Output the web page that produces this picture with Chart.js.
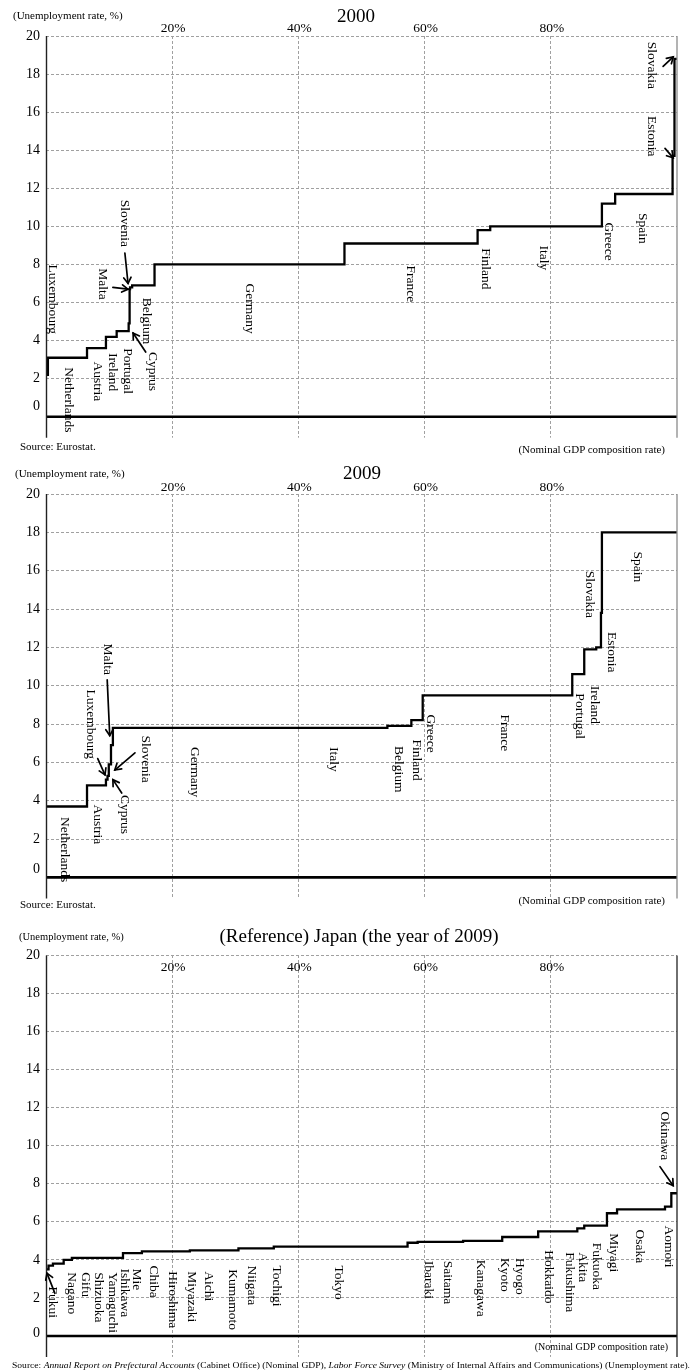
<!DOCTYPE html>
<html><head><meta charset="utf-8">
<script src="https://cdn.jsdelivr.net/npm/chart.js@4.4.0/dist/chart.umd.min.js"></script>
<style>
html,body{margin:0;padding:0;background:#fff;}
#wrap{position:relative;width:693px;height:1371px;overflow:hidden;font-family:'Liberation Serif','Times New Roman',serif;color:#000;}
canvas{position:absolute;left:0;}
.t{position:absolute;white-space:nowrap;line-height:1;}
.c{transform:translate(-50%,-50%);}
.l{transform:translateY(-50%);}
.r{transform:translate(-100%,-50%);}
</style></head><body>
<div id="wrap">
<canvas id="c1" width="693" height="458" style="top:0px"></canvas>
<canvas id="c2" width="693" height="457" style="top:458px"></canvas>
<canvas id="c3" width="693" height="456" style="top:915px"></canvas>

<div class="t c" style="left:356px;top:15px;font-size:19px">2000</div>
<div class="t l" style="left:13px;top:15px;font-size:11px">(Unemployment rate, %)</div>
<div class="t l" style="left:20px;top:446px;font-size:11px">Source: Eurostat.</div>
<div class="t r" style="left:665px;top:449px;font-size:11px">(Nominal GDP composition rate)</div>

<div class="t c" style="left:362px;top:472px;font-size:19px">2009</div>
<div class="t l" style="left:15px;top:473px;font-size:11px">(Unemployment rate, %)</div>
<div class="t l" style="left:20px;top:904px;font-size:11px">Source: Eurostat.</div>
<div class="t r" style="left:665px;top:900px;font-size:11px">(Nominal GDP composition rate)</div>

<div class="t c" style="left:359px;top:935px;font-size:19px">(Reference) Japan (the year of 2009)</div>
<div class="t l" style="left:19px;top:937px;font-size:10.5px">(Unemployment rate, %)</div>
<div class="t r" style="left:668px;top:1347px;font-size:10px">(Nominal GDP composition rate)</div>
<div class="t" id="foot" style="left:12px;top:1365px;font-size:8.5px;transform-origin:left center">Source: <i>Annual Report on Prefectural Accounts</i> (Cabinet Office) (Nominal GDP), <i>Labor Force Survey</i> (Ministry of Internal Affairs and Communications) (Unemployment rate).</div>
</div>
<script>
// ---------------- DATA ----------------
// 2000 euro area: countries sorted by unemployment rate, nominal GDP share (%), unemployment rate (%)
const countries2000 = ['Luxembourg','Netherlands','Austria','Ireland','Portugal','Cyprus','Malta','Slovenia','Belgium','Germany','France','Finland','Italy','Greece','Spain','Estonia','Slovakia'];
const gdpShare2000  = [0.3, 6.2, 3.0, 1.7, 1.9, 0.15, 0.07, 0.33, 3.55, 30.1, 21.1, 2.0, 17.7, 2.1, 9.1, 0.3, 0.4];
const unemp2000     = [2.2, 3.1, 3.6, 4.2, 4.5, 4.9, 6.7, 6.8, 6.9, 8.0, 9.1, 9.8, 10.0, 11.2, 11.7, 13.7, 18.8];

// 2009 euro area
const countries2009 = ['Netherlands','Austria','Luxembourg','Cyprus','Slovenia','Malta','Germany','Italy','Belgium','Finland','Greece','France','Portugal','Ireland','Slovakia','Estonia','Spain'];
const gdpShare2009  = [6.5, 3.0, 0.25, 0.2, 0.35, 0.3, 26.7, 16.8, 3.8, 1.8, 2.6, 21.1, 1.9, 1.9, 0.75, 0.15, 11.9];
const unemp2009     = [3.7, 4.8, 5.1, 5.3, 5.9, 6.9, 7.8, 7.8, 7.9, 8.2, 9.5, 9.5, 10.6, 11.9, 12.0, 13.8, 18.0];

// Japan 2009: prefectures (steps without a label are unnamed)
const prefJapan   = ['Fukui','','Nagano','Gifu','Shizuoka','Yamaguchi','Ishikawa','Mie','Chiba','Hiroshima','Miyazaki','Aichi','Kumamoto','Niigata','Tochigi','Tokyo','','Ibaraki','Saitama','Kanagawa','Kyoto','Hyogo','Hokkaido','Fukushima','Akita','Fukuoka','Miyagi','Osaka','Aomori','Okinawa'];
const gdpShareJapan = [0.4, 0.7, 1.7, 1.3, 3.3, 1.2, 1.0, 2.6, 3.0, 7.6, 2.0, 5.7, 1.9, 3.7, 3.0, 18.2, 1.6, 3.6, 3.6, 6.2, 2.5, 3.2, 6.2, 1.1, 1.0, 2.6, 1.6, 7.6, 1.0, 0.9];
const unempJapan    = [3.5, 3.7, 3.8, 4.0, 4.1, 4.1, 4.1, 4.1, 4.35, 4.45, 4.5, 4.5, 4.6, 4.6, 4.7, 4.7, 4.9, 4.95, 4.95, 5.0, 5.2, 5.2, 5.5, 5.65, 5.8, 5.8, 6.45, 6.65, 6.8, 7.5];

// tick labels
const yTickValues = [0, 2, 4, 6, 8, 10, 12, 14, 16, 18, 20];
const yGridValues = [2, 4, 6, 8, 10, 12, 14, 16, 18, 20];
const xTickValues = [20, 40, 60, 80];

// ---------------- LAYOUT (annotation placement, data units: x = % , y = rate at text top) ----------------
const labels2000 = [
  ['Luxembourg',1.1,8.0],['Netherlands',3.5,2.6],['Austria',8.1,2.9],['Ireland',10.5,3.35],['Portugal',13.0,3.6],
  ['Cyprus',16.9,3.4],['Belgium',16.0,6.25],['Malta',9.0,7.8],['Slovenia',12.5,11.4],['Germany',32.3,7.0],
  ['France',57.7,7.95],['Finland',69.7,8.85],['Italy',78.9,9.0],['Greece',89.2,10.2],['Spain',94.6,10.7],
  ['Slovakia',96.0,19.7],['Estonia',96.0,15.8]
];
const arrows2000 = [[12.5,8.6,13.0,7.0],[10.6,6.8,13.0,6.7],[15.8,3.4,13.8,4.4],[97.8,18.4,99.4,18.9],[98.1,14.1,99.4,13.6]];

const labels2009 = [
  ['Malta',9.8,12.2],['Luxembourg',7.0,9.8],['Slovenia',15.7,7.4],['Cyprus',12.5,4.3],['Austria',8.1,3.8],
  ['Netherlands',3.0,3.15],['Germany',23.6,6.8],['Italy',45.5,6.8],['Belgium',55.9,6.85],['Finland',58.8,7.2],
  ['Greece',61.0,8.5],['France',72.7,8.5],['Portugal',84.6,9.6],['Ireland',87.0,10.0],['Slovakia',86.2,16.0],
  ['Estonia',89.7,12.8],['Spain',93.8,17.0]
];
const arrows2009 = [[9.7,10.3,10.1,7.4],[8.2,6.2,9.35,5.35],[14.1,6.5,10.9,5.6],[12.0,4.4,10.6,5.1]];

const labelsJapan = [
  ['Fukui',1.1,2.6],['Nagano',4.1,3.35],['Gifu',6.3,3.35],['Shizuoka',8.4,3.35],['Yamaguchi',10.6,3.35],
  ['Ishikawa',12.5,3.55],['Mie',14.4,3.55],['Chiba',17.1,3.7],['Hiroshima',20.0,3.4],['Miyazaki',23.0,3.4],
  ['Aichi',25.8,3.4],['Kumamoto',29.6,3.5],['Niigata',32.5,3.7],['Tochigi',36.6,3.7],['Tokyo',46.3,3.7],
  ['Ibaraki',60.7,3.95],['Saitama',63.7,3.95],['Kanagawa',68.9,4.0],['Kyoto',72.7,4.1],['Hyogo',75.1,4.1],
  ['Hokkaido',79.6,4.5],['Fukushima',82.9,4.4],['Akita',85.1,4.4],['Fukuoka',87.3,4.9],['Miyagi',89.9,5.4],
  ['Osaka',94.1,5.6],['Aomori',98.6,5.8],['Okinawa',98.1,11.8]
];
const arrowsJapan = [[1.4,2.25,0.15,3.3],[97.3,8.9,99.4,7.9]];

// ---------------- BUILD ----------------
function stepPoints(shares, rates){
  let cum = 0; const pts = [];
  for (let i = 0; i < shares.length; i++){ pts.push({x: cum, y: rates[i]}); cum += shares[i]; }
  pts.push({x: cum, y: rates[rates.length-1]});
  return pts;
}
const FONT = "'Liberation Serif','Times New Roman',serif";
function drawArrow(ctx, x1, y1, x2, y2){
  ctx.beginPath(); ctx.moveTo(x1,y1); ctx.lineTo(x2,y2); ctx.stroke();
  const a = Math.atan2(y2-y1, x2-x1), h = 7, w = 0.55;
  ctx.beginPath();
  ctx.moveTo(x2 - h*Math.cos(a-w), y2 - h*Math.sin(a-w));
  ctx.lineTo(x2, y2);
  ctx.lineTo(x2 - h*Math.cos(a+w), y2 - h*Math.sin(a+w));
  ctx.stroke();
}
function annotPlugin(cfg){
  return {
    id: 'annot',
    afterDraw(chart){
      const {ctx, chartArea: a, scales: {x, y}} = chart;
      ctx.save();
      // axis lines
      ctx.lineWidth = 1.4; ctx.strokeStyle = '#222';
      ctx.beginPath(); ctx.moveTo(a.left+0.5, a.top); ctx.lineTo(a.left+0.5, a.bottom); ctx.stroke();
      ctx.lineWidth = 1.3; ctx.strokeStyle = cfg.rightColor;
      ctx.beginPath(); ctx.moveTo(a.right, a.top); ctx.lineTo(a.right, a.bottom); ctx.stroke();
      // y tick labels
      ctx.fillStyle = '#000';
      ctx.font = '14px ' + FONT; ctx.textAlign = 'right'; ctx.textBaseline = 'middle';
      yTickValues.forEach(v => {
        ctx.fillText(String(v), a.left - 6, y.getPixelForValue(v) - (v === 0 ? cfg.zeroShift : 0));
      });
      // x tick labels
      ctx.font = '13.5px ' + FONT; ctx.textAlign = 'center';
      xTickValues.forEach(v => { ctx.fillText(v + '%', x.getPixelForValue(v) + 1, a.top + cfg.xLabelDy); });
      // category labels (rotated)
      ctx.font = '13.5px ' + FONT; ctx.textAlign = 'left'; ctx.textBaseline = 'middle';
      cfg.labels.forEach(([t, lx, ly]) => {
        ctx.save();
        ctx.translate(x.getPixelForValue(lx), y.getPixelForValue(ly));
        ctx.rotate(Math.PI/2);
        ctx.fillText(t, 0, 0);
        ctx.restore();
      });
      // arrows
      ctx.strokeStyle = '#000'; ctx.lineWidth = 1.7; ctx.lineCap = 'round'; ctx.lineJoin = 'miter';
      cfg.arrows.forEach(([x1,y1,x2,y2]) => {
        drawArrow(ctx, x.getPixelForValue(x1), y.getPixelForValue(y1), x.getPixelForValue(x2), y.getPixelForValue(y2));
      });
      ctx.restore();
    }
  };
}
function makeChart(id, shares, rates, cfg){
  const gridOpts = {color: '#a0a0a0', lineWidth: 1, drawTicks: false, tickLength: 0};
  return new Chart(document.getElementById(id), {
    type: 'line',
    data: {datasets: [
      {data: stepPoints(shares, rates), stepped: true, borderColor: '#000', borderWidth: 2.3, pointRadius: 0, fill: false, borderJoinStyle: 'miter', borderCapStyle: 'butt'},
      {data: [{x: 0, y: 0}, {x: 100, y: 0}], borderColor: '#000', borderWidth: 2.6, pointRadius: 0, fill: false}
    ]},
    options: {
      responsive: false, animation: false, devicePixelRatio: 1, events: [],
      layout: {padding: {left: 46, right: 16, top: cfg.padTop, bottom: cfg.padBottom}},
      plugins: {legend: {display: false}, tooltip: {enabled: false}, title: {display: false}},
      scales: {
        x: {type: 'linear', min: 0, max: 100, position: 'top',
            afterBuildTicks: s => { s.ticks = xTickValues.map(v => ({value: v})); },
            ticks: {display: false}, grid: gridOpts, border: {display: false, dash: [3, 2]}},
        y: {type: 'linear', min: -1.1, max: 20,
            afterBuildTicks: s => { s.ticks = yGridValues.map(v => ({value: v})); },
            ticks: {display: false}, grid: gridOpts, border: {display: false, dash: [3, 2]}}
      }
    },
    plugins: [annotPlugin(cfg)]
  });
}
makeChart('c1', gdpShare2000, unemp2000, {padTop: 36, padBottom: 20.3, zeroShift: 10, xLabelDy: -8, rightColor: '#8a8a8a', labels: labels2000, arrows: arrows2000});
makeChart('c2', gdpShare2009, unemp2009, {padTop: 36, padBottom: 16.5, zeroShift: 8, xLabelDy: -6.5, rightColor: '#8a8a8a', labels: labels2009, arrows: arrows2009});
makeChart('c3', gdpShareJapan, unempJapan, {padTop: 40.4, padBottom: 14.1, zeroShift: 3, xLabelDy: 12, rightColor: '#222', labels: labelsJapan, arrows: arrowsJapan});

const foot = document.getElementById('foot');
const fw = foot.getBoundingClientRect().width;
foot.style.transform = 'translateY(-50%) scaleX(' + (678 / fw) + ')';
</script>
</body></html>
